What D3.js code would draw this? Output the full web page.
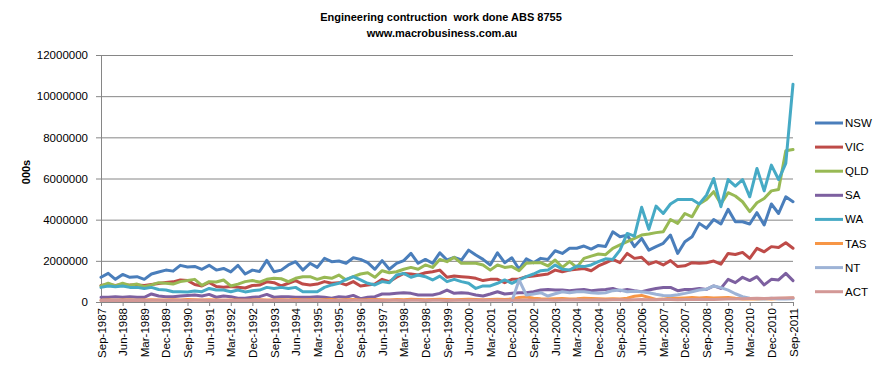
<!DOCTYPE html>
<html>
<head>
<meta charset="utf-8">
<script src="https://cdn.jsdelivr.net/npm/d3@7.9.0/dist/d3.min.js"></script>
<style>
  body { margin: 0; background: #fff; }
  svg { display: block; font-family: "Liberation Sans", Arial, sans-serif; }
  .grid line { stroke: #868686; stroke-width: 1; }
  .grid path { display: none; }
  .axis path, .axis line { stroke: #868686; }
  .axis text { fill: #000; font-size: 11px; }
</style>
</head>
<body>
<div id="chart"></div>
<script>
// Quarters Sep-1987 .. Sep-2011 (97 quarters)
const months = ['Mar', 'Jun', 'Sep', 'Dec'];
const quarters = [];
for (let k = 0; k < 97; k++) {
    const q = k + 2; // start at Sep
    quarters.push(months[q % 4] + '-' + (1987 + Math.floor(q / 4)));
}

// Values in millions of $000s
const nsw = [1.20, 1.39, 1.10, 1.34, 1.20, 1.23, 1.10, 1.36, 1.46, 1.55, 1.50, 1.78, 1.70, 1.73, 1.59, 1.78, 1.55, 1.63, 1.46, 1.78, 1.36, 1.55, 1.48, 2.02,
    1.47, 1.55, 1.80, 1.96, 1.55, 1.88, 1.68, 2.12, 1.96, 1.99, 1.88, 2.15, 2.07, 1.91, 1.59, 2.01, 1.59, 1.88, 2.01, 2.36, 1.88, 2.07, 1.88, 2.39,
    2.04, 2.17, 2.04, 2.52, 2.28, 2.07, 1.80, 2.39, 1.91, 2.15, 1.59, 2.10, 1.91, 2.12, 2.07, 2.49, 2.36, 2.61, 2.61, 2.72, 2.57, 2.75, 2.70,
    3.41, 3.17, 3.25, 2.69, 3.09, 2.52, 2.69, 2.85, 3.25, 2.36, 2.93, 3.17, 3.82, 3.58, 4.01, 3.79, 4.50, 3.90, 3.90, 3.79, 4.34, 3.74, 4.76, 4.30, 5.11, 4.87];
const vic = [0.80, 0.85, 0.80, 0.85, 0.82, 0.82, 0.80, 0.85, 0.90, 0.95, 0.98, 1.07, 1.05, 0.85, 0.78, 0.95, 0.75, 0.72, 0.75, 0.72, 0.68, 0.80, 0.82, 0.98,
    0.94, 0.78, 0.91, 1.04, 0.87, 0.83, 0.87, 0.99, 0.91, 0.94, 0.83, 0.99, 0.78, 0.83, 0.87, 1.10, 0.99, 1.20, 1.39, 1.36, 1.31, 1.42, 1.47, 1.55,
    1.20, 1.26, 1.23, 1.20, 1.15, 1.04, 1.10, 1.10, 0.94, 1.10, 1.12, 1.23, 1.26, 1.31, 1.36, 1.55, 1.47, 1.55, 1.59, 1.63, 1.52, 1.75, 1.90,
    2.07, 1.91, 2.36, 2.12, 2.17, 1.84, 1.96, 1.80, 2.01, 1.72, 1.76, 1.91, 1.88, 1.91, 1.99, 1.84, 2.36, 2.31, 2.41, 2.12, 2.61, 2.44, 2.69, 2.65, 2.88, 2.61];
const qld = [0.78, 0.91, 0.78, 0.91, 0.81, 0.87, 0.74, 0.83, 0.94, 0.91, 0.87, 0.99, 1.04, 1.10, 0.81, 0.99, 0.97, 1.07, 0.78, 0.87, 0.99, 1.04, 0.97, 1.10,
    1.15, 1.13, 0.99, 1.15, 1.23, 1.23, 1.10, 1.20, 1.15, 1.31, 1.07, 1.23, 1.36, 1.42, 1.20, 1.52, 1.42, 1.47, 1.59, 1.68, 1.59, 1.80, 1.68, 2.07,
    1.96, 2.17, 1.88, 1.88, 1.88, 1.80, 1.55, 1.80, 1.68, 1.72, 1.52, 1.88, 1.91, 1.91, 1.75, 2.04, 1.68, 1.96, 1.68, 2.12, 2.23, 2.33, 2.30,
    2.61, 2.77, 2.93, 3.09, 3.25, 3.30, 3.37, 3.41, 4.01, 3.82, 4.30, 4.14, 4.76, 4.98, 5.36, 4.76, 5.31, 5.15, 4.87, 4.39, 4.82, 5.03, 5.40, 5.47, 7.35, 7.41];
const sa = [0.23, 0.23, 0.26, 0.23, 0.26, 0.23, 0.23, 0.39, 0.29, 0.26, 0.26, 0.29, 0.32, 0.34, 0.29, 0.37, 0.23, 0.29, 0.26, 0.18, 0.18, 0.23, 0.26, 0.37,
    0.23, 0.26, 0.26, 0.23, 0.23, 0.23, 0.26, 0.23, 0.18, 0.26, 0.23, 0.32, 0.16, 0.23, 0.26, 0.39, 0.39, 0.42, 0.45, 0.42, 0.34, 0.34, 0.34, 0.42,
    0.58, 0.42, 0.45, 0.42, 0.34, 0.29, 0.39, 0.50, 0.39, 0.42, 0.45, 0.45, 0.50, 0.58, 0.61, 0.58, 0.58, 0.55, 0.58, 0.61, 0.55, 0.58, 0.61,
    0.66, 0.55, 0.61, 0.55, 0.50, 0.58, 0.66, 0.70, 0.71, 0.55, 0.61, 0.61, 0.66, 0.61, 0.78, 0.66, 1.10, 0.94, 1.20, 1.04, 1.23, 0.83, 1.10, 1.07, 1.39, 1.04];
const wa = [0.71, 0.78, 0.74, 0.78, 0.71, 0.71, 0.66, 0.71, 0.61, 0.58, 0.50, 0.50, 0.49, 0.53, 0.50, 0.66, 0.58, 0.58, 0.50, 0.58, 0.49, 0.55, 0.58, 0.71,
    0.66, 0.71, 0.66, 0.71, 0.50, 0.50, 0.50, 0.71, 0.83, 0.91, 1.10, 1.23, 1.07, 0.91, 0.83, 0.99, 0.94, 1.31, 1.39, 1.20, 1.31, 1.23, 1.07, 1.26,
    0.99, 1.10, 0.99, 0.91, 0.66, 0.78, 0.78, 0.91, 1.07, 0.91, 1.07, 1.23, 1.36, 1.52, 1.55, 1.80, 1.59, 1.55, 1.75, 1.72, 1.80, 1.96, 2.10,
    2.07, 2.52, 3.33, 3.20, 4.60, 3.53, 4.66, 4.30, 4.76, 4.98, 4.98, 4.98, 4.76, 5.19, 6.00, 4.63, 5.95, 5.63, 5.95, 5.11, 6.49, 5.40, 6.65, 5.95, 6.73, 10.58];
const tas = [0.09, 0.10, 0.09, 0.10, 0.10, 0.09, 0.10, 0.11, 0.10, 0.10, 0.11, 0.10, 0.12, 0.11, 0.10, 0.11, 0.10, 0.09, 0.10, 0.10, 0.09, 0.10, 0.11, 0.10,
    0.10, 0.11, 0.10, 0.12, 0.10, 0.11, 0.10, 0.11, 0.12, 0.10, 0.11, 0.12, 0.10, 0.11, 0.12, 0.11, 0.10, 0.12, 0.11, 0.13, 0.12, 0.11, 0.12, 0.13,
    0.12, 0.11, 0.12, 0.13, 0.12, 0.11, 0.12, 0.13, 0.12,
    0.14, 0.22, 0.24, 0.18, 0.16, 0.15, 0.16, 0.17, 0.15, 0.16, 0.18, 0.17, 0.16, 0.15,
    0.16, 0.15, 0.18, 0.28, 0.32, 0.22, 0.12, 0.14, 0.20, 0.18, 0.20, 0.22, 0.20, 0.22, 0.20, 0.21, 0.22, 0.18, 0.15, 0.14, 0.15, 0.16, 0.15, 0.17, 0.18, 0.19];
const nt = [null, null, null, null, null, null, null, null, null, null, null, null, null, null, null, null, null, null, null, null, null, null, null, null,
    null, null, null, null, null, null, null, null, null, null, null, null, null, null, null, null, null, null, null, null, null, null, null, null,
    null, null, null, null, null, null, null, null, null,
    0.02, 1.07, 0.34, 0.39, 0.45, 0.29, 0.40, 0.50, 0.45, 0.50, 0.50, 0.45, 0.42, 0.45,
    0.55, 0.58, 0.50, 0.52, 0.50, 0.45, 0.38, 0.32, 0.30, 0.35, 0.42, 0.50, 0.58, 0.62, 0.78, 0.70, 0.58, 0.40, 0.26, 0.18, 0.16, 0.15, 0.18, 0.15, 0.15, 0.16];
const act = [0.07, 0.07, 0.08, 0.07, 0.07, 0.08, 0.07, 0.08, 0.08, 0.07, 0.08, 0.08, 0.07, 0.08, 0.08, 0.07, 0.07, 0.08, 0.07, 0.07, 0.08, 0.07, 0.08, 0.07,
    0.07, 0.08, 0.07, 0.07, 0.08, 0.07, 0.08, 0.07, 0.07, 0.08, 0.07, 0.08, 0.08, 0.07, 0.08, 0.07, 0.08, 0.08, 0.07, 0.08, 0.08, 0.07, 0.08, 0.08,
    0.07, 0.08, 0.08, 0.09, 0.08, 0.08, 0.09, 0.08, 0.09,
    0.09, 0.09, 0.10, 0.09, 0.10, 0.10, 0.09, 0.10, 0.10, 0.11, 0.10, 0.10, 0.11, 0.10,
    0.11, 0.11, 0.10, 0.11, 0.12, 0.11, 0.11, 0.12, 0.12, 0.11, 0.12, 0.12, 0.13, 0.12, 0.12, 0.13, 0.14, 0.15, 0.16, 0.17, 0.18, 0.17, 0.18, 0.19, 0.20, 0.21];

const seriesNames = ['NSW', 'VIC', 'QLD', 'SA', 'WA', 'TAS', 'NT', 'ACT'];
const seriesValues = [nsw, vic, qld, sa, wa, tas, nt, act];
const seriesColors = ['#4A7EBB', '#BE4B48', '#98B954', '#7D60A0', '#46AAC5', '#F79646', '#9DB3D6', '#D39896'];
const yTicks = [0, 2, 4, 6, 8, 10, 12];

const width = 878;
const height = 371;
const plot = { left: 101, right: 793, top: 55, bottom: 302 };

const svg = d3.select('#chart')
    .append('svg')
    .attr('width', width)
    .attr('height', height);

// Scales
const x = d3.scalePoint().domain(quarters).range([plot.left, plot.right]);
const y = d3.scaleLinear().domain([0, 12]).range([plot.bottom, plot.top]);

// Gridlines
svg.append('g')
    .attr('class', 'grid')
    .attr('transform', `translate(${plot.left},0)`)
    .call(d3.axisLeft(y).tickValues(yTicks.slice(1)).tickFormat('').tickSize(-(plot.right - plot.left)));

// Y axis
const yAxis = svg.append('g')
    .attr('class', 'axis')
    .attr('transform', `translate(${plot.left},0)`)
    .call(d3.axisLeft(y).tickValues(yTicks).tickSize(5).tickPadding(8)
        .tickFormat((d) => d3.format('d')(d * 1000000)));
yAxis.selectAll('text').style('font-size', '11.5px');

// X axis
const xAxis = svg.append('g')
    .attr('class', 'axis')
    .attr('transform', `translate(0,${plot.bottom})`)
    .call(d3.axisBottom(x).tickValues(quarters.filter((d, i) => i % 3 === 0)).tickSize(4));
xAxis.selectAll('text')
    .attr('transform', 'rotate(-90)')
    .attr('text-anchor', 'end')
    .attr('x', -6)
    .attr('y', 0)
    .attr('dy', '0.35em')
    .style('font-size', '11.5px');

// Lines
const line = d3.line()
    .defined((d) => d != null)
    .x((d, i) => x(quarters[i]))
    .y((d) => y(d));

svg.append('g')
    .selectAll('path')
    .data(seriesValues)
    .join('path')
    .attr('d', (d) => line(d))
    .attr('fill', 'none')
    .attr('stroke', (d, i) => seriesColors[i])
    .attr('stroke-width', 3)
    .attr('stroke-linejoin', 'round')
    .attr('stroke-linecap', 'round');

// Title
svg.append('text')
    .attr('x', 441)
    .attr('y', 21)
    .attr('text-anchor', 'middle')
    .style('font-size', '11px')
    .style('font-weight', 'bold')
    .style('white-space', 'pre')
    .text('Engineering contruction  work done ABS 8755');
svg.append('text')
    .attr('x', 442)
    .attr('y', 37)
    .attr('text-anchor', 'middle')
    .style('font-size', '11px')
    .style('font-weight', 'bold')
    .text('www.macrobusiness.com.au');

// Y axis title
svg.append('text')
    .attr('transform', 'translate(30,172) rotate(-90)')
    .attr('text-anchor', 'middle')
    .style('font-size', '11px')
    .style('font-weight', 'bold')
    .text('000s');

// Legend
const legend = svg.append('g').attr('transform', 'translate(815,123)');
const items = legend.selectAll('g')
    .data(seriesNames)
    .join('g')
    .attr('transform', (d, i) => `translate(0,${i * 24.1})`);
items.append('line')
    .attr('x1', 0).attr('x2', 28)
    .attr('stroke', (d, i) => seriesColors[i])
    .attr('stroke-width', 3);
items.append('text')
    .attr('x', 30)
    .attr('dy', '0.35em')
    .style('font-size', '11.5px')
    .text((d) => d);
</script>
</body>
</html>
